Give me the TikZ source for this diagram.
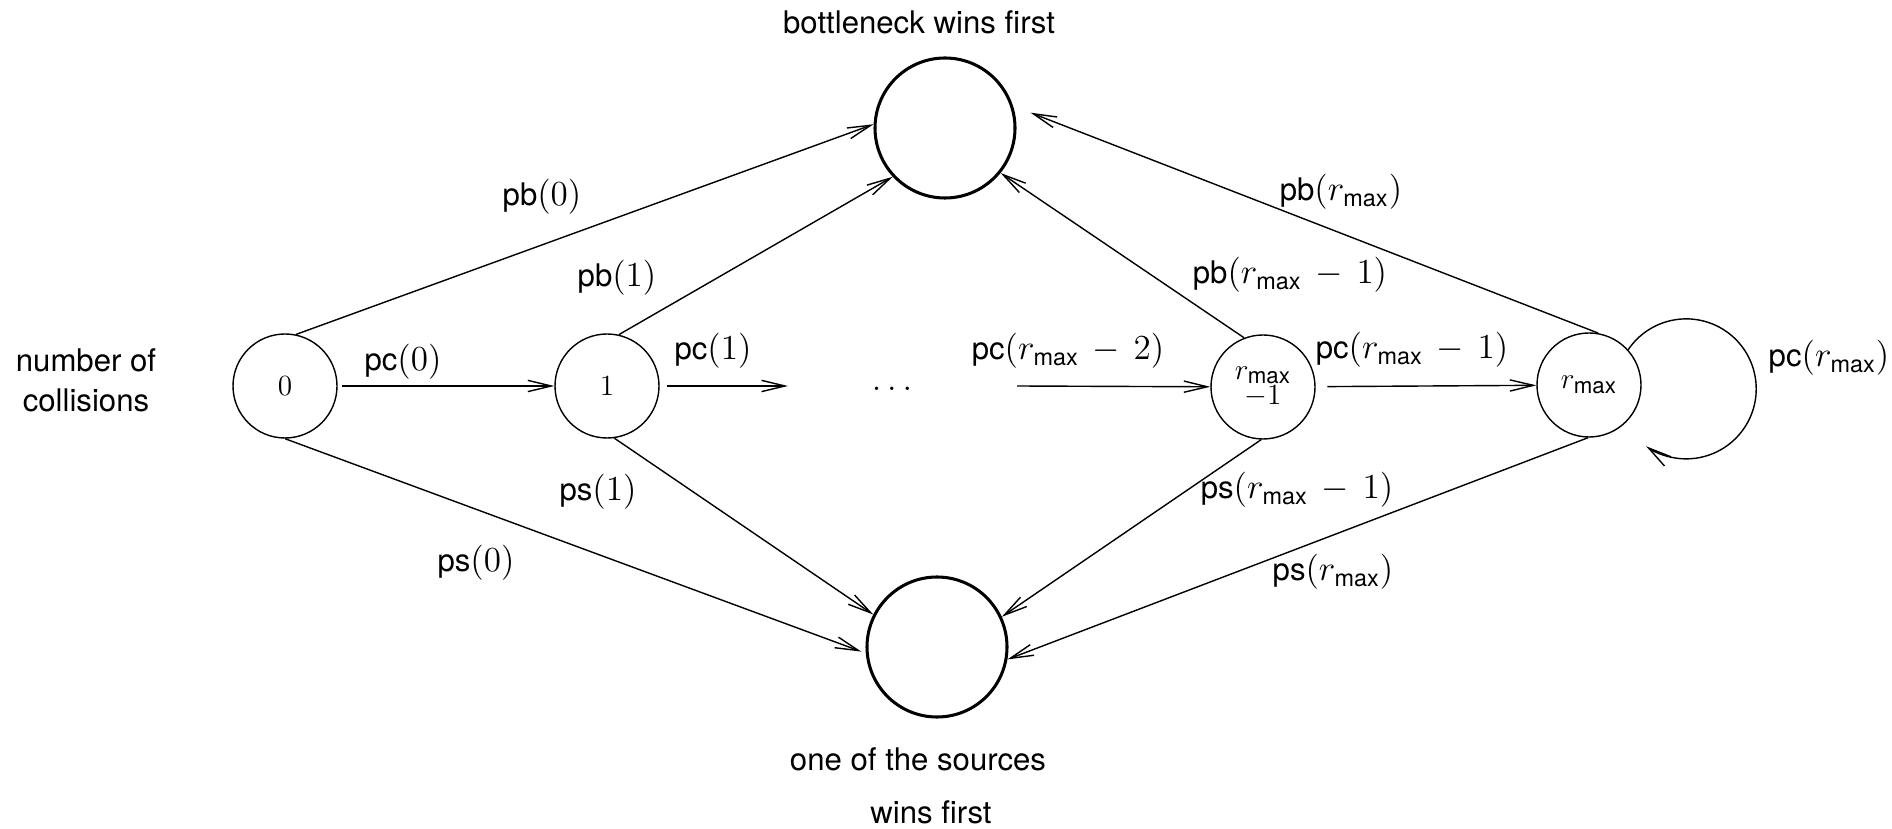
\documentclass[tikz,border=0pt]{standalone}
\usepackage{fix-cm}
\usepackage{amsmath}
\usepackage[no-math]{fontspec}
\setmainfont{TeX Gyre Heros}
\usepackage{tikz}
\usetikzlibrary{shapes}
\usetikzlibrary{arrows.meta}
\DeclareMathSizes{13.3}{15}{10}{7}
\DeclareMathSizes{12}{12.5}{9.5}{7}
\newcommand{\edgefont}{\fontsize{13.3pt}{17pt}\selectfont\medmuskip=7mu}
\newcommand{\statefont}{\fontsize{12pt}{11pt}\selectfont}

\begin{document}
\begin{tikzpicture}[x=0.015cm,y=-0.015cm,>={Straight Barb[length=10pt,width=4.8pt]},
		every node/.style={font=\edgefont},
		state/.style={circle,draw,line width=0.6pt,minimum size=1.56cm,inner sep=0pt,font=\statefont},
		sink/.style={circle,draw,line width=1.3pt,minimum size=2.1cm},
		trans/.style={->,line width=0.6pt}]
		\useasboundingbox (0,0) rectangle (1892,829);
		\node[state] (n0) at (285,386) {$0$};
		\node[state] (n1) at (607,386) {$1$};
		\node[state,align=center] (nm1) at (1263,387) {$r_{\text{max}}$\\$-1$};
		\node[state] (nm) at (1589,385) {$r_{\text{max}}$};
		\node[sink] (top) at (945,128) {};
		\node[sink] (bot) at (937,647) {};
		\node (dots) at (892,389) {$\ldots$};
		\coordinate (gapL) at (788,386);
		\coordinate (gapR) at (1017,386);
		\node[align=center] (coll) at (86,380) {number of\\collisions};
		\node (bwin) at (919,22) {bottleneck wins first};
		\node (swin) at (918,759) {one of the sources};
		\node (swin2) at (931,812) {wins first};
		\draw[trans,shorten <=2pt] (n0) -- (n1);
		\draw[trans,shorten <=3pt] (n1) -- (gapL);
		\draw[trans] (gapR) -- (nm1);
		\draw[trans,shorten <=5pt] (nm1) -- (nm);
		\draw[trans] (n0.78) -- (top.177);
		\draw[trans] (n1.77) -- (top.223);
		\draw[trans] (nm1.111) -- (top.-39);
		\draw[trans,shorten >=8pt] (nm.80) -- (top.18);
		\draw[trans,shorten >=2pt] (n0.-90) -- (bot.185);
		\draw[trans] (n1.-82) -- (bot.153);
		\draw[trans] (nm1.-92) -- (bot.25);
		\draw[trans] (nm.-91) -- (bot.-10);
		\draw[trans] (nm.42) arc[start angle=146,end angle=-125,radius=1.05cm];
		\node (lpc0) at (403,362) {pc$(0)$};
		\node (lpc1) at (713,351) {pc$(1)$};
		\node (lpcm2) at (1068,351) {pc$(r_{\text{max}}-2)$};
		\node (lpcm1) at (1412,350) {pc$(r_{\text{max}}-1)$};
		\node (lpcm) at (1829,358) {pc$(r_{\text{max}})$};
		\node (lpb0) at (542,197) {pb$(0)$};
		\node (lpb1) at (617,278) {pb$(1)$};
		\node (lpbm1) at (1290,275) {pb$(r_{\text{max}}-1)$};
		\node (lpbm) at (1341,192) {pb$(r_{\text{max}})$};
		\node (lps0) at (476,563) {ps$(0)$};
		\node (lps1) at (598,492) {ps$(1)$};
		\node (lpsm1) at (1297,490) {ps$(r_{\text{max}}-1)$};
		\node (lpsm) at (1333,572) {ps$(r_{\text{max}})$};
	\end{tikzpicture}
\end{document}
